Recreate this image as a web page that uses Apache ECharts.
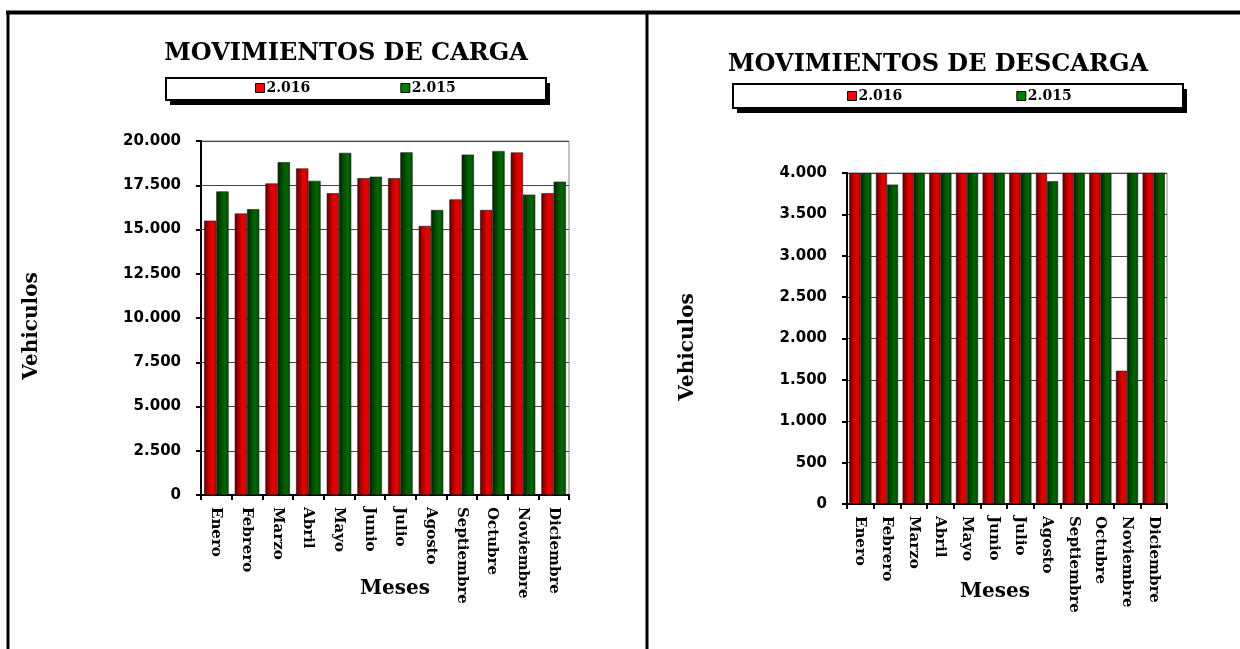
<!DOCTYPE html>
<html>
<head>
<meta charset="utf-8">
<script src="https://cdn.jsdelivr.net/npm/echarts@6/dist/echarts.min.js"></script>
<style>
html,body{margin:0;padding:0;background:#fff;}
#chart{width:1240px;height:649px;}
</style>
</head>
<body>
<div id="chart"></div>
<script>
const meses = ['Enero','Febrero','Marzo','Abril','Mayo','Junio','Julio','Agosto','Septiembre','Octubre','Noviembre','Diciembre'];
const cargaTicks = ['0','2.500','5.000','7.500','10.000','12.500','15.000','17.500','20.000'];
const descargaTicks = ['0','500','1.000','1.500','2.000','2.500','3.000','3.500','4.000'];
const carga2016 = [15500, 15900, 17600, 18450, 17050, 17900, 17900, 15200, 16700, 16100, 19350, 17050];
const carga2015 = [17150, 16150, 18800, 17750, 19330, 17980, 19360, 16100, 19230, 19430, 16970, 17700];
const descarga2016 = [4000, 4000, 4000, 4000, 4000, 4000, 4000, 4000, 4000, 4000, 1610, 4000];
const descarga2015 = [4000, 3860, 4000, 4000, 4000, 4000, 4000, 3900, 4000, 4000, 4000, 4000];

const serif = 'DejaVu Serif';
const sans = 'DejaVu Sans';

const redGrad = new echarts.graphic.LinearGradient(0,0,1,0,[
  {offset:0,color:'#5e0000'},{offset:0.35,color:'#b80000'},{offset:0.6,color:'#e80000'},{offset:1,color:'#d20000'}]);
const greenGrad = new echarts.graphic.LinearGradient(0,0,1,0,[
  {offset:0,color:'#002200'},{offset:0.4,color:'#005200'},{offset:0.7,color:'#006800'},{offset:1,color:'#004c00'}]);

function fmt(ticks){
  return function(v){ const i = ticks.map(t=>Number(t.replace(/\./g,''))).indexOf(v); return i>=0?ticks[i]:''; };
}

function xAxisCfg(grid, gap){
  return {
    type:'category', gridIndex:grid, data:meses,
    axisLine:{lineStyle:{color:'#000',width:2}},
    axisTick:{show:true,length:5,lineStyle:{color:'#000',width:2}},
    axisLabel:{rotate:-90,margin:gap,color:'#000',fontFamily:serif,fontWeight:'bold',fontSize:15,interval:0}
  };
}
function yAxisCfg(grid, max, interval, ticks){
  return {
    type:'value', gridIndex:grid, min:0, max:max, interval:interval,
    axisLine:{show:true,lineStyle:{color:'#000',width:2}},
    axisTick:{show:true,length:5,lineStyle:{color:'#000',width:2}},
    axisLabel:{formatter:fmt(ticks),margin:20,color:'#000',fontFamily:sans,fontWeight:'bold',fontSize:15},
    splitLine:{show:true,lineStyle:{color:'#444',width:1}}
  };
}
function barSeries(name, x, data, grad, catGap){
  return {
    type:'bar', name:name, xAxisIndex:x, yAxisIndex:x, data:data,
    barGap:'0%', barCategoryGap:catGap,
    itemStyle:{color:grad,borderColor:'#1a1a1a',borderWidth:0.6},
    emphasis:{disabled:true}
  };
}
function legendCfg(left, top, gap){
  return {
    left:left, top:top, itemGap:gap, itemWidth:9, itemHeight:9, icon:'rect', padding:0,
    textStyle:{color:'#000',fontFamily:serif,fontWeight:'bold',fontSize:14,padding:[0,0,0,-3]},
    data:[{name:'2.016',itemStyle:{color:'#ff0000',borderColor:'#000',borderWidth:1}},
          {name:'2.015',itemStyle:{color:'#008000',borderColor:'#000',borderWidth:1}}]
  };
}
function legendBox(x,y,w,h){
  return [
    {type:'rect',z:0,shape:{x:x+4,y:y+5,width:w,height:h},style:{fill:'#000'}},
    {type:'rect',z:1,shape:{x:x,y:y,width:w,height:h},style:{fill:'#fff',stroke:'#000',lineWidth:2}}
  ];
}
function axisTitle(text,x,y,rot){
  return {type:'text',z:5,x:x,y:y,rotation:rot||0,style:{text:text,fill:'#000',font:'bold 20px "DejaVu Serif"',align:'center',verticalAlign:'middle'}};
}

const chart = echarts.init(document.getElementById('chart'));
chart.setOption({
  backgroundColor:'#fff',
  animation:false,
  title:[
    {text:'MOVIMIENTOS DE CARGA',left:346,top:42,textAlign:'center',padding:0,
     textStyle:{color:'#000',fontFamily:serif,fontWeight:'bold',fontSize:24}},
    {text:'MOVIMIENTOS DE DESCARGA',left:938,top:53,textAlign:'center',padding:0,
     textStyle:{color:'#000',fontFamily:serif,fontWeight:'bold',fontSize:24}}
  ],
  legend:[legendCfg(255,81,90), legendCfg(847,89,114)],
  grid:[
    {left:201,top:141,width:368,height:354,show:true,borderColor:'#888',borderWidth:1,backgroundColor:'transparent'},
    {left:847,top:173,width:320,height:331,show:true,borderColor:'#888',borderWidth:1,backgroundColor:'transparent'}
  ],
  xAxis:[xAxisCfg(0,12), xAxisCfg(1,12)],
  yAxis:[yAxisCfg(0,20000,2500,cargaTicks), yAxisCfg(1,4000,500,descargaTicks)],
  series:[
    barSeries('2.016',0,carga2016,redGrad,'20%'),
    barSeries('2.015',0,carga2015,greenGrad,'20%'),
    barSeries('2.016',1,descarga2016,redGrad,'17%'),
    barSeries('2.015',1,descarga2015,greenGrad,'17%')
  ],
  graphic:[
    {type:'line',z:5,shape:{x1:6,y1:12.5,x2:1240,y2:12.5},style:{stroke:'#000',lineWidth:4}},
    {type:'line',z:5,shape:{x1:8,y1:11,x2:8,y2:649},style:{stroke:'#000',lineWidth:3}},
    {type:'line',z:5,shape:{x1:647,y1:11,x2:647,y2:649},style:{stroke:'#000',lineWidth:3}},
    ...legendBox(166,78,380,22),
    ...legendBox(733,84,450,24),
    axisTitle('Meses',395,589),
    axisTitle('Meses',995,592),
    axisTitle('Vehiculos',32,326,Math.PI/2),
    axisTitle('Vehiculos',688,347,Math.PI/2)
  ]
});
</script>
</body>
</html>
